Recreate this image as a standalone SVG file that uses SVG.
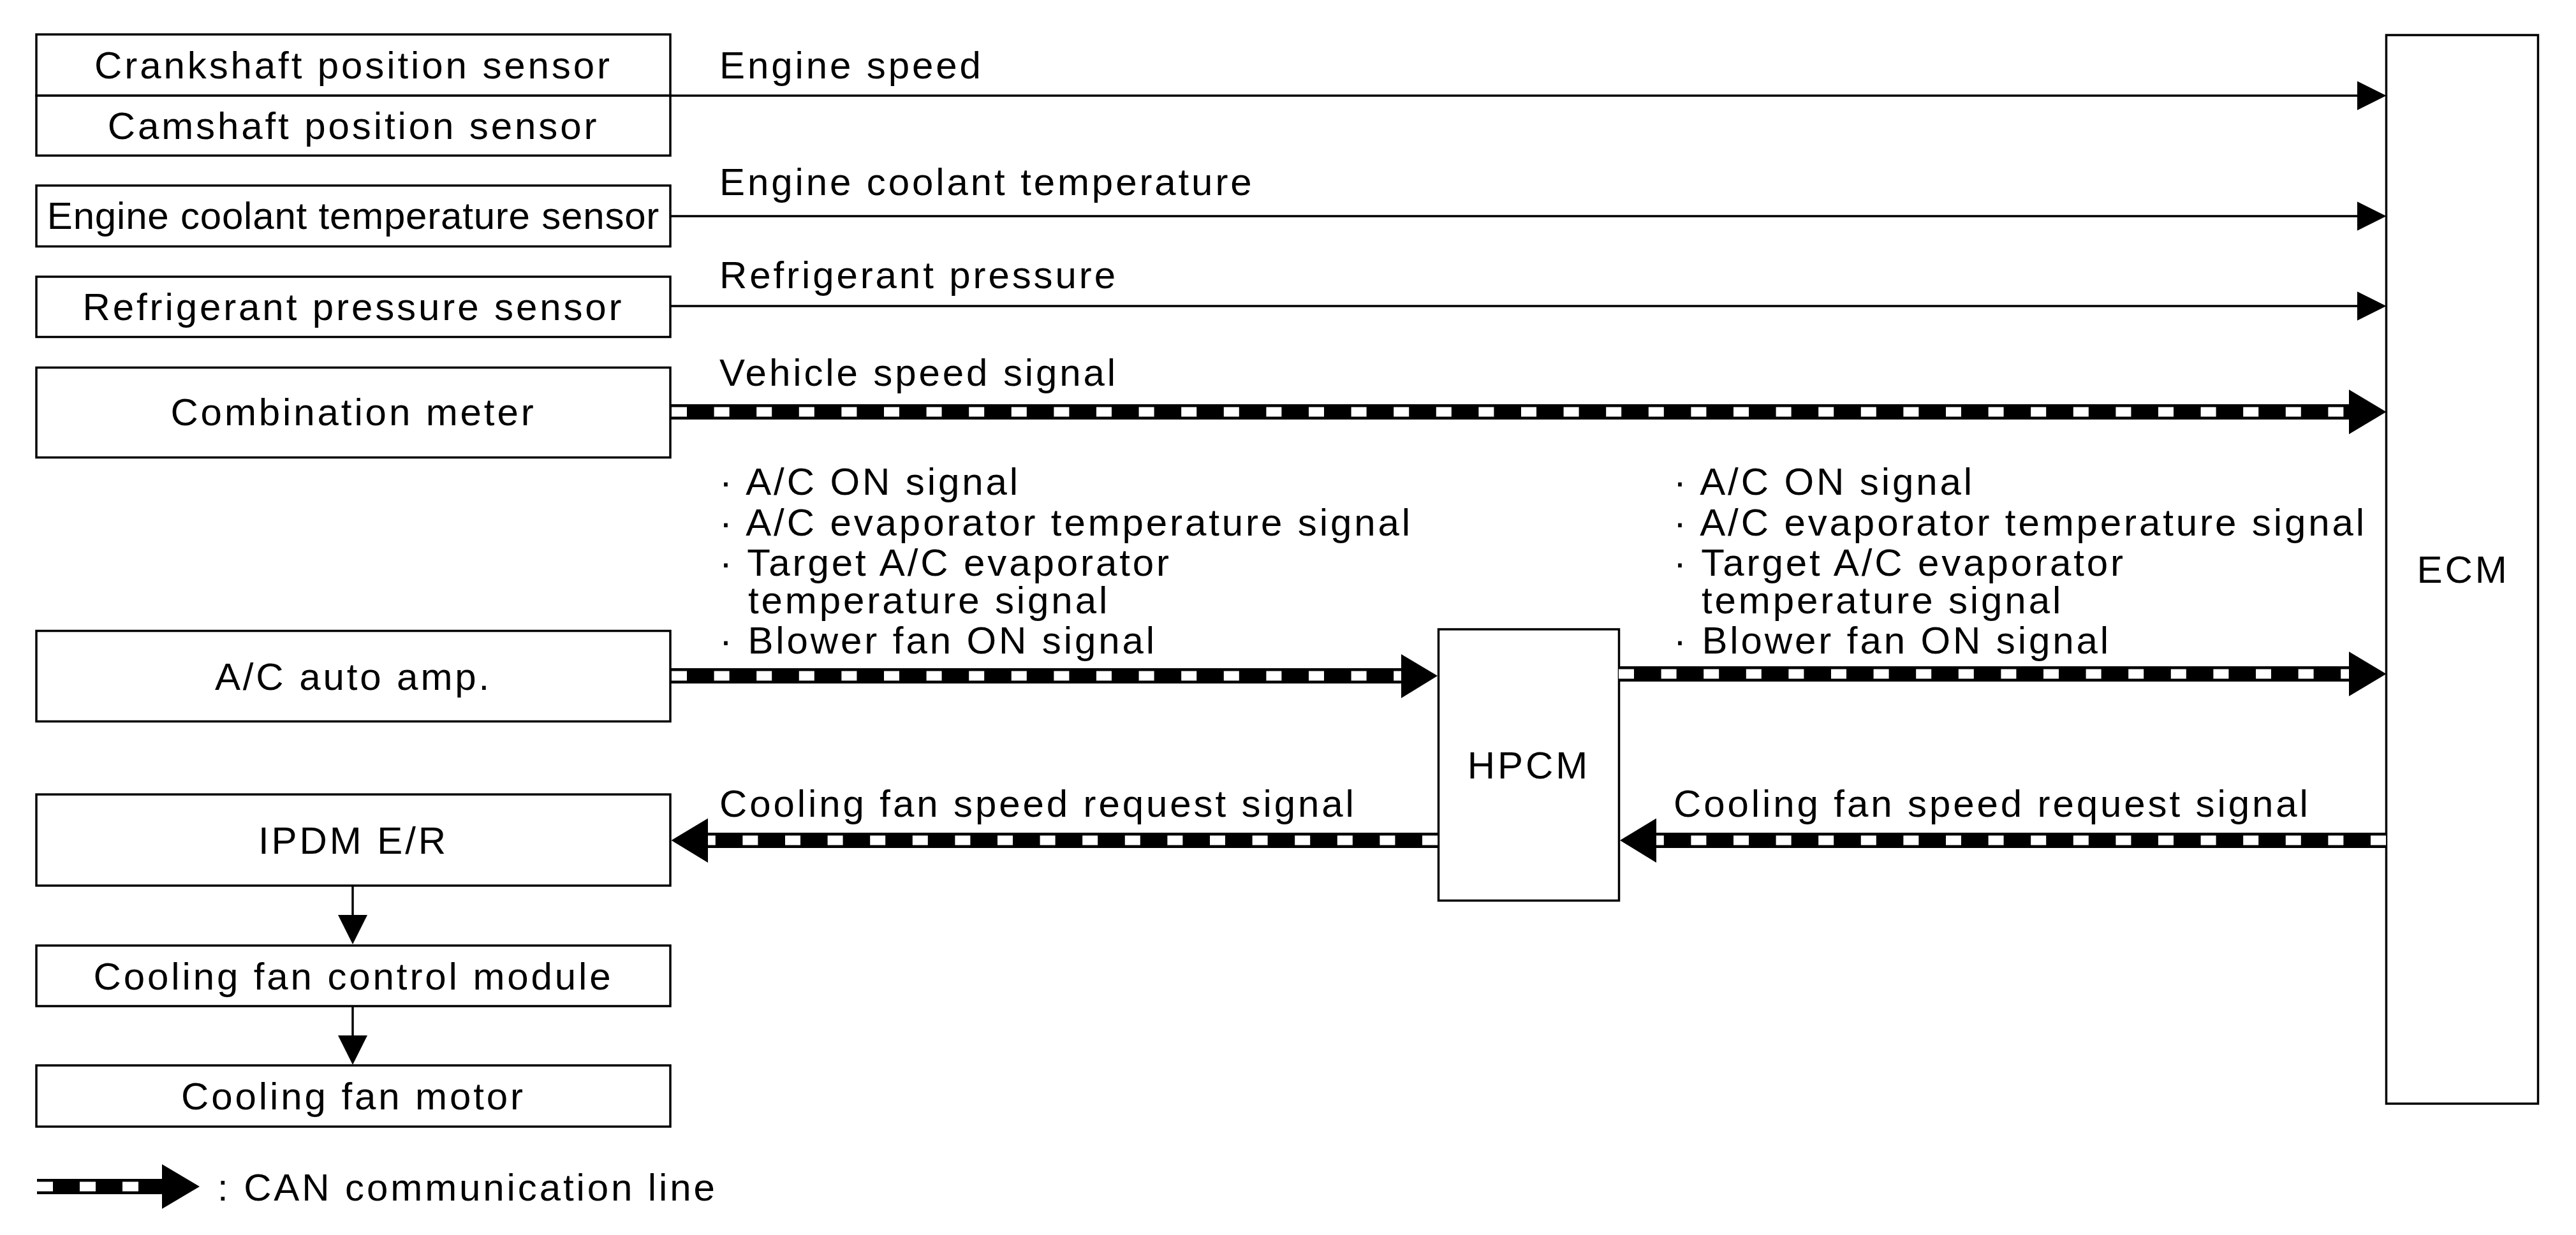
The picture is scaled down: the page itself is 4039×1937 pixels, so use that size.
<svg xmlns="http://www.w3.org/2000/svg" width="4039" height="1937" viewBox="0 0 4039 1937">
<style>
.box{fill:#fff;stroke:#000;stroke-width:3.5}
.t{font-family:"Liberation Sans",Arial,Helvetica,sans-serif;font-size:60px;letter-spacing:3.9px;fill:#000}
.c{text-anchor:middle}
.wire{stroke:#000;stroke-width:3.5;fill:none}
.canb{stroke:#000;stroke-width:24;fill:none}
.canw{stroke:#fff;stroke-width:15;stroke-dasharray:24 42.6;fill:none}
.head{fill:#000;stroke:none}
</style>
<defs>
<marker id="ah" markerUnits="userSpaceOnUse" markerWidth="46" markerHeight="46" viewBox="0 0 46 46" refX="42" refY="23" orient="auto">
<path d="M0,0L46,23L0,46z" fill="#000"/>
</marker>
</defs>
<rect width="4039" height="1937" fill="#fff"/>

<g id="crankshaft-sensor">
<rect class="box" x="57" y="54" width="994" height="96"/>
<text class="t c" x="554" y="123">Crankshaft position sensor</text>
</g>
<g id="camshaft-sensor">
<rect class="box" x="57" y="150" width="994" height="94"/>
<text class="t c" x="554" y="218">Camshaft position sensor</text>
</g>
<g id="ect-sensor">
<rect class="box" x="57" y="291" width="994" height="95.5"/>
<text class="t c" x="554" y="359" style="letter-spacing:0.8px">Engine coolant temperature sensor</text>
</g>
<g id="refrigerant-sensor">
<rect class="box" x="57" y="434" width="994" height="94.5"/>
<text class="t c" x="554" y="502">Refrigerant pressure sensor</text>
</g>
<g id="combination-meter">
<rect class="box" x="57" y="576.5" width="994" height="141"/>
<text class="t c" x="554" y="667">Combination meter</text>
</g>
<g id="ac-auto-amp">
<rect class="box" x="57" y="989.5" width="994" height="142"/>
<text class="t c" x="554" y="1082">A/C auto amp.</text>
</g>
<g id="ipdm">
<rect class="box" x="57" y="1246" width="994" height="143"/>
<text class="t c" x="554" y="1339">IPDM E/R</text>
</g>
<g id="cooling-fan-control-module">
<rect class="box" x="57" y="1483" width="994" height="95"/>
<text class="t c" x="554" y="1552">Cooling fan control module</text>
</g>
<g id="cooling-fan-motor">
<rect class="box" x="57" y="1671" width="994" height="96"/>
<text class="t c" x="554" y="1740">Cooling fan motor</text>
</g>
<g id="hpcm">
<rect class="box" x="2255.5" y="987" width="283" height="425.5"/>
<text class="t c" x="2397" y="1221">HPCM</text>
</g>
<g id="ecm">
<rect class="box" x="3741.5" y="55" width="238" height="1676"/>
<text class="t c" x="3862" y="914">ECM</text>
</g>

<g id="connectors">
<line class="wire" x1="1051" y1="150" x2="3737.6" y2="150" marker-end="url(#ah)"/>
<line class="wire" x1="1051" y1="339" x2="3737.6" y2="339" marker-end="url(#ah)"/>
<line class="wire" x1="1051" y1="480" x2="3737.6" y2="480" marker-end="url(#ah)"/>
<line class="wire" x1="553" y1="1389" x2="553" y2="1477" marker-end="url(#ah)"/>
<line class="wire" x1="553" y1="1578" x2="553" y2="1666" marker-end="url(#ah)"/>

<g id="can-combination-ecm">
<line class="canb" x1="1051" y1="646" x2="3684" y2="646"/>
<line class="canw" x1="1053" y1="646" x2="3683" y2="646"/>
<polygon class="head" points="3683,611 3741.5,646 3683,681"/>
</g>
<g id="can-acamp-hpcm">
<line class="canb" x1="1051" y1="1060" x2="2198" y2="1060"/>
<line class="canw" x1="1053" y1="1060" x2="2197" y2="1060"/>
<polygon class="head" points="2197,1026 2254,1060 2197,1095"/>
</g>
<g id="can-hpcm-ecm">
<line class="canb" x1="2538" y1="1057" x2="3684" y2="1057"/>
<line class="canw" x1="2538" y1="1057" x2="3683" y2="1057"/>
<polygon class="head" points="3683,1022 3741.5,1057 3683,1092"/>
</g>
<g id="can-ecm-hpcm">
<line class="canb" x1="3741" y1="1318" x2="2596" y2="1318"/>
<line class="canw" x1="3741" y1="1318" x2="2597" y2="1318"/>
<polygon class="head" points="2597,1283.5 2540,1318 2597,1353"/>
</g>
<g id="can-hpcm-ipdm">
<line class="canb" x1="2254" y1="1318" x2="1109" y2="1318"/>
<line class="canw" x1="2254" y1="1318" x2="1110" y2="1318"/>
<polygon class="head" points="1110,1283.5 1052.5,1318 1110,1353"/>
</g>
</g>

<g id="labels">
<text class="t" x="1128" y="123">Engine speed</text>
<text class="t" x="1128" y="306">Engine coolant temperature</text>
<text class="t" x="1128" y="452">Refrigerant pressure</text>
<text class="t" x="1128" y="605">Vehicle speed signal</text>
<text class="t" x="1128" y="776">· A/C ON signal</text>
<text class="t" x="1128" y="840">· A/C evaporator temperature signal</text>
<text class="t" x="1128" y="903">· Target A/C evaporator</text>
<text class="t" x="1173" y="962">temperature signal</text>
<text class="t" x="1128" y="1025">· Blower fan ON signal</text>
<text class="t" x="1128" y="1281">Cooling fan speed request signal</text>
<text class="t" x="2624" y="776">· A/C ON signal</text>
<text class="t" x="2624" y="840">· A/C evaporator temperature signal</text>
<text class="t" x="2624" y="903">· Target A/C evaporator</text>
<text class="t" x="2668" y="962">temperature signal</text>
<text class="t" x="2624" y="1025">· Blower fan ON signal</text>
<text class="t" x="2624" y="1281">Cooling fan speed request signal</text>
</g>

<g id="legend">
<line class="canb" x1="58" y1="1861" x2="255" y2="1861"/>
<line class="canw" x1="58" y1="1861" x2="254" y2="1861" style="stroke-dasharray:25 42"/>
<polygon class="head" points="254,1826 313,1861 254,1896"/>
<text class="t" x="341" y="1883">: CAN communication line</text>
</g>
</svg>
